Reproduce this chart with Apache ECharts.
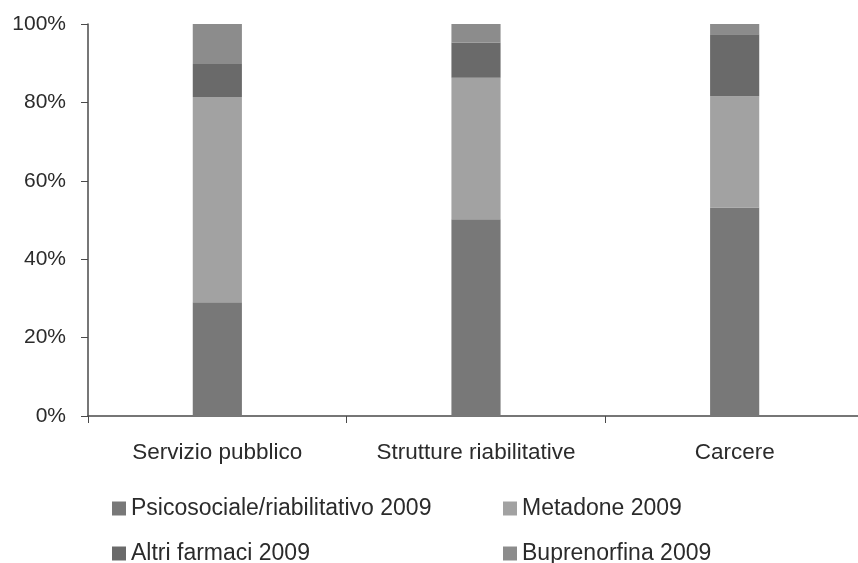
<!DOCTYPE html>
<html>
<head>
<meta charset="utf-8">
<script src="https://cdn.jsdelivr.net/npm/echarts@6/dist/echarts.min.js"></script>
<style>
html, body { margin: 0; padding: 0; background: #fff; }
#main { width: 858px; height: 563px; }
</style>
</head>
<body>
<div id="main"></div>
<script>
var categories = ['Servizio pubblico', 'Strutture riabilitative', 'Carcere'];
var psicosociale = [29.0, 50.2, 53.2];
var metadone = [52.4, 36.1, 28.4];
var altriFarmaci = [8.4, 9.0, 15.8];
var buprenorfina = [10.2, 4.7, 2.6];
var yTicks = [0, 20, 40, 60, 80, 100];

var myChart = echarts.init(document.getElementById('main'));

var font = 'Liberation Sans, Arial, sans-serif';

function bar(name, values, color) {
    return {
        name: name,
        type: 'bar',
        stack: 'tot',
        barWidth: '19%',
        data: values,
        itemStyle: { color: color }
    };
}

// una legenda per voce, per metterle su due colonne
function legendItem(name, left, top) {
    return {
        data: [name],
        left: left,
        top: top,
        itemWidth: 14,
        itemHeight: 14,
        icon: 'rect',
        textStyle: { fontFamily: font, fontSize: 23, color: '#2b2b2b' }
    };
}

var option = {
    backgroundColor: '#ffffff',
    animation: false,
    grid: {
        left: 88,
        width: 776,
        top: 24,
        bottom: 147,
        outerBoundsMode: 'none'
    },
    legend: [
        legendItem('Psicosociale/riabilitativo 2009', 107, 492),
        legendItem('Metadone 2009', 498, 492),
        legendItem('Altri farmaci 2009', 107, 537),
        legendItem('Buprenorfina 2009', 498, 537)
    ],
    xAxis: {
        type: 'category',
        data: categories,
        axisLine: { lineStyle: { color: '#4a4a4a', width: 1.5 } },
        axisTick: { show: true, length: 7, lineStyle: { color: '#4a4a4a' } },
        axisLabel: {
            fontFamily: font,
            fontSize: 22.5,
            color: '#2b2b2b',
            margin: 25
        }
    },
    yAxis: {
        type: 'value',
        min: yTicks[0],
        max: yTicks[yTicks.length - 1],
        interval: 20,
        splitLine: { show: false },
        axisLine: { show: true, lineStyle: { color: '#4a4a4a', width: 1.5 } },
        axisTick: { show: true, length: 7, lineStyle: { color: '#4a4a4a' } },
        axisLabel: {
            fontFamily: font,
            fontSize: 21,
            color: '#2b2b2b',
            margin: 22,
            formatter: '{value}%'
        }
    },
    series: [
        bar('Psicosociale/riabilitativo 2009', psicosociale, '#787878'),
        bar('Metadone 2009', metadone, '#a2a2a2'),
        bar('Altri farmaci 2009', altriFarmaci, '#6a6a6a'),
        bar('Buprenorfina 2009', buprenorfina, '#8c8c8c')
    ]
};

myChart.setOption(option);
</script>
</body>
</html>
